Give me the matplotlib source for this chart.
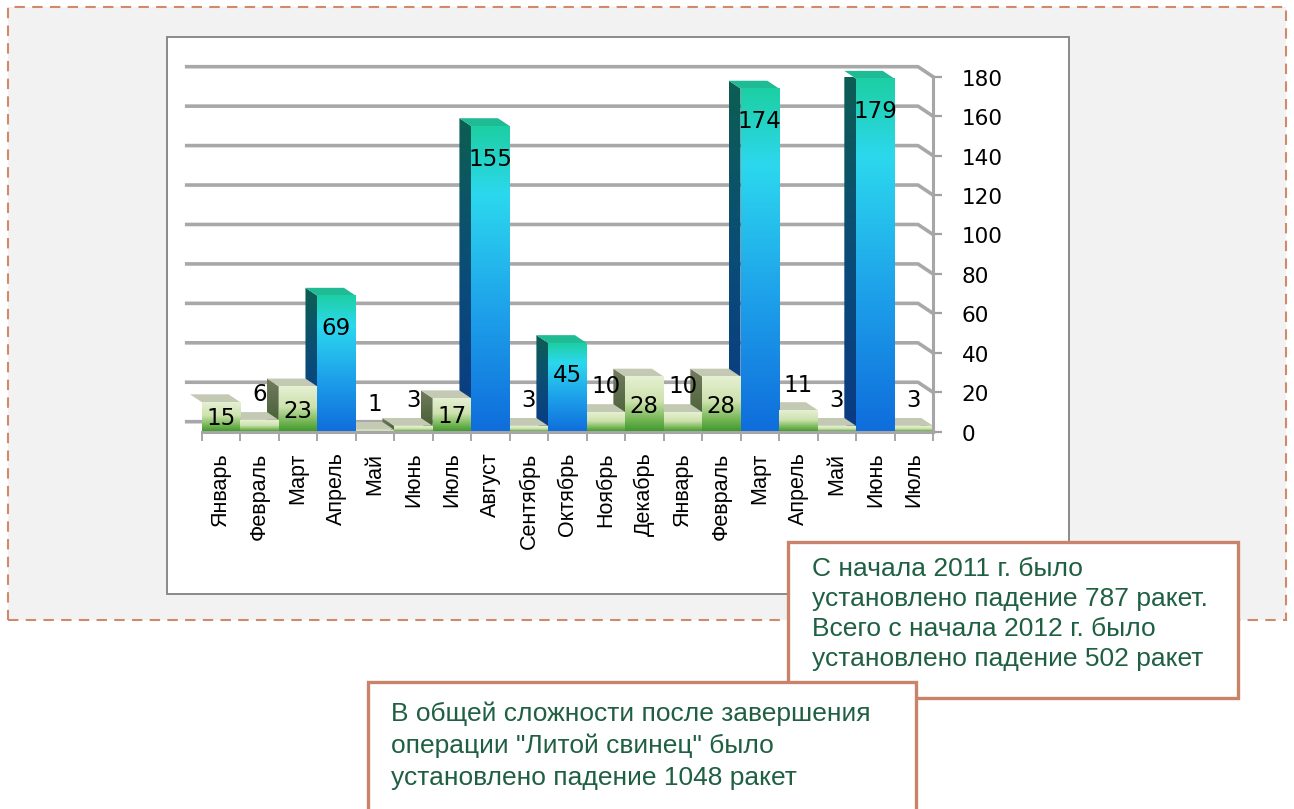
import numpy as np
import matplotlib
matplotlib.use("Agg")
import matplotlib.pyplot as plt
import matplotlib.transforms as mtransforms
from matplotlib.colors import LinearSegmentedColormap
from matplotlib.patches import Rectangle, Polygon

# data
months = ["Январь", "Февраль", "Март", "Апрель", "Май", "Июнь", "Июль",
          "Август", "Сентябрь", "Октябрь", "Ноябрь", "Декабрь",
          "Январь", "Февраль", "Март", "Апрель", "Май", "Июнь", "Июль"]
rockets = [15, 6, 23, 69, 1, 3, 17, 155, 3, 45, 10, 28,
           10, 28, 174, 11, 3, 179, 3]
y_ticks = list(range(0, 181, 20))

note_2011 = ("С начала 2011 г. было\n"
             "установлено падение 787 ракет.\n"
             "Всего с начала 2012 г. было\n"
             "установлено падение 502 ракет")
note_total = ("В общей сложности после завершения\n"
              "операции \"Литой свинец\" было\n"
              "установлено падение 1048 ракет")

W, H, DPI = 1294, 809, 100
TALL = 40            # bars from this value up get the blue fill
LABEL_INSIDE = 15    # from this value up the label sits inside the bar

tall_front = LinearSegmentedColormap.from_list(
    "tf", [(0, "#1dcfa4"), (0.22, "#2cd8ee"), (0.6, "#1ea2ea"), (1, "#0f6ddc")])
tall_side = LinearSegmentedColormap.from_list(
    "ts", [(0, "#0d5e52"), (0.5, "#0b4c78"), (1, "#0a3a84")])
small_front = LinearSegmentedColormap.from_list(
    "sf", [(0, "#e6f0d3"), (0.45, "#cde2ad"), (0.8, "#6fb350"), (1, "#3c962c")])
small_side = LinearSegmentedColormap.from_list(
    "ss", [(0, "#737c60"), (1, "#3f5a2c")])
TALL_TOP = "#1fbb95"
SMALL_TOP = "#c3c9b2"
GRID = "#a8a8a8"
BORDER = "#c9836a"
NOTE_TEXT = "#1f5f42"


def fig_rect(x0, y0, x1, y1, **kw):
    # rectangle given in pixels from the top-left corner of the picture
    r = Rectangle((x0 / W, 1 - y1 / H), (x1 - x0) / W, (y1 - y0) / H,
                  transform=fig.transFigure, **kw)
    fig.add_artist(r)
    return r


def gradient(ax, extent, cmap, z, clip=None):
    grad = np.linspace(0, 1, 128).reshape(-1, 1)
    im = ax.imshow(grad, cmap=cmap, extent=extent, origin="upper",
                   aspect="auto", interpolation="bilinear", zorder=z)
    if clip is None:
        im.set_clip_on(False)
    else:
        im.set_clip_path(clip)
        im.set_clip_box(None)
    return im


fig = plt.figure(figsize=(W / DPI, H / DPI), dpi=DPI)
fig.patch.set_facecolor("white")

# outer dashed frame and chart area
fig_rect(8, 7, 1286, 620, facecolor="#f2f2f2", edgecolor="#cf8a6c",
         lw=1.5, linestyle=(0, (5, 3.5)), zorder=-3)
fig_rect(167, 37, 1069, 594, facecolor="white", edgecolor="#8a8a8a",
         lw=1.4, zorder=-2)

# plot area (front plane of the 3d box)
left, right, top, bottom = 201.7, 933.0, 76.7, 431.7
ax = fig.add_axes([left / W, 1 - bottom / H, (right - left) / W, (bottom - top) / H])
n = len(rockets)

px_x = (right - left) / n
px_y = (bottom - top) / 180
wall_dx, wall_dy = -15 / px_x, 10 / px_y
bar_dx, bar_dy = 0.78 * wall_dx, 0.78 * wall_dy
pt = 72 / DPI  # points per pixel

# gridlines on the back wall, bent to the front at the value axis
for t in y_ticks:
    ax.plot([wall_dx, n + wall_dx, n], [t + wall_dy, t + wall_dy, t],
            color=GRID, lw=2.6, zorder=1, clip_on=False,
            solid_joinstyle="round")

for i, v in enumerate(rockets):
    tall = v >= TALL
    x0, x1 = i, i + 1
    side = Polygon([(x0, 0), (x0, v), (x0 + bar_dx, v + bar_dy),
                    (x0 + bar_dx, bar_dy)], closed=True, transform=ax.transData)
    gradient(ax, (x0 + bar_dx, x0, 0, v + bar_dy),
             tall_side if tall else small_side, 2, clip=side)
    ax.add_patch(Polygon([(x0, v), (x1, v), (x1 + bar_dx, v + bar_dy),
                          (x0 + bar_dx, v + bar_dy)], closed=True,
                         facecolor=TALL_TOP if tall else SMALL_TOP,
                         edgecolor="none", zorder=3, clip_on=False))
    gradient(ax, (x0, x1, 0, max(v, 0.01)),
             tall_front if tall else small_front, 4)
    if v >= LABEL_INSIDE:
        off = -min(33, 0.55 * v * px_y) * pt
    else:
        off = 18
    ax.annotate(f"{v}", xy=(i + 0.5, v), xytext=(0, off),
                textcoords="offset points", ha="center", va="center",
                fontsize=16.5, family="DejaVu Sans", color="black",
                zorder=6, annotation_clip=False)

ax.set_xlim(0, n)
ax.set_ylim(0, 180)
ax.patch.set_visible(False)

ax.set_xticks(np.arange(n + 1))
ax.set_xticklabels([])
ax.set_xticks(np.arange(n) + 0.5, minor=True)
ax.set_xticklabels(months, minor=True, rotation=90, fontsize=15.5,
                   family="Liberation Sans")
ax.tick_params(axis="x", which="major", length=6.5, width=1.3,
               color="#a0a0a0", direction="out")
ax.tick_params(axis="x", which="minor", length=0, pad=15)

ax.yaxis.tick_right()
ax.set_yticks(y_ticks)
ax.tick_params(axis="y", length=6.5, width=1.6, color="#a0a0a0", pad=14,
               labelsize=15.5)
shift_down = mtransforms.ScaledTranslation(0, -3 / DPI, fig.dpi_scale_trans)
for lab in ax.get_yticklabels():
    lab.set_va("center")
    lab.set_transform(lab.get_transform() + shift_down)

for s in ["left", "top"]:
    ax.spines[s].set_visible(False)
for s in ["right", "bottom"]:
    ax.spines[s].set_color("#a6a6a6")
    ax.spines[s].set_linewidth(2.2)
    ax.spines[s].set_zorder(4.5)

# note boxes
fig_rect(788, 542, 1238, 698, facecolor="white", edgecolor=BORDER,
         lw=2.4, zorder=5)
fig.text(812 / W, 1 - 557 / H, note_2011, ha="left", va="top",
         fontsize=19, family="Liberation Sans", color=NOTE_TEXT,
         linespacing=1.32, zorder=6)
fig_rect(368, 682, 916, 840, facecolor="white", edgecolor=BORDER,
         lw=2.4, zorder=7)
fig.text(391 / W, 1 - 702 / H, note_total, ha="left", va="top",
         fontsize=19, family="Liberation Sans", color=NOTE_TEXT,
         linespacing=1.38, zorder=8)

fig.savefig("out.png", dpi=DPI)
